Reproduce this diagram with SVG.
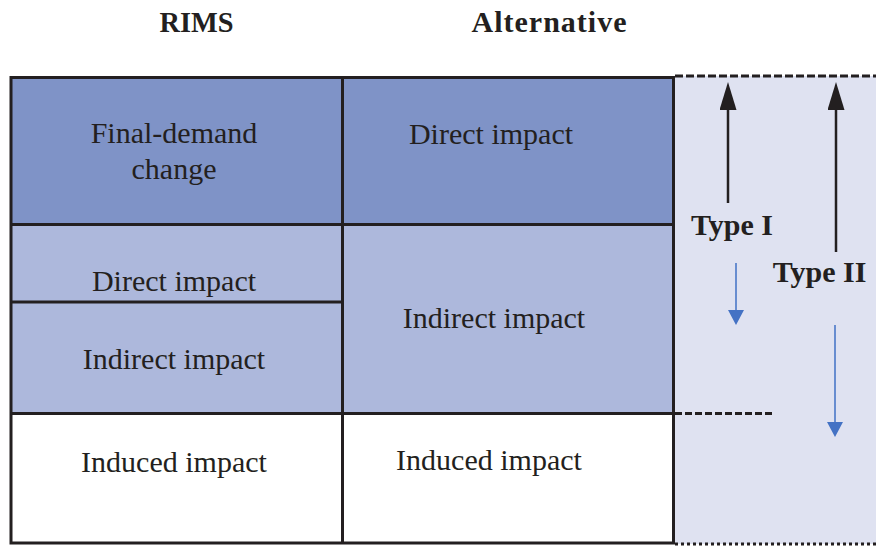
<svg xmlns="http://www.w3.org/2000/svg" width="876" height="546" viewBox="0 0 876 546">
  <style>
    .lbl { font-family: "Liberation Serif", "Times New Roman", serif; font-size: 30px; fill: #231f20; text-anchor: middle; }
    .hdr { font-family: "Liberation Serif", "Times New Roman", serif; font-size: 30px; font-weight: bold; fill: #231f20; text-anchor: middle; }
    .grid { stroke: #231f20; stroke-width: 3; fill: none; }
    .up { stroke: #231f20; stroke-width: 2.5; fill: none; }
    .down { stroke: #4a78c8; stroke-width: 1.6; fill: none; }
  </style>
  <defs>
    <!-- heads start at the line end and point along its direction -->
    <marker id="headUp" viewBox="0 0 28 17" refX="0" refY="8.5" markerWidth="28" markerHeight="17" markerUnits="userSpaceOnUse" orient="auto">
      <path d="M0,0 L28,8.5 L0,17 Z" fill="#231f20"/>
    </marker>
    <marker id="headDown" viewBox="0 0 15 16" refX="0" refY="8" markerWidth="15" markerHeight="16" markerUnits="userSpaceOnUse" orient="auto">
      <path d="M0,0 L15,8 L0,16 Z" fill="#4472c4"/>
    </marker>
  </defs>

  <!-- column headings -->
  <text class="hdr" x="196.5" y="32" textLength="74" lengthAdjust="spacingAndGlyphs">RIMS</text>
  <text class="hdr" x="549" y="32" textLength="155">Alternative</text>

  <!-- multiplier band on the right -->
  <rect x="675" y="76" width="201" height="468" fill="#dfe2f1"/>

  <!-- RIMS column -->
  <g id="rims-final-demand">
    <rect x="11" y="77.5" width="331.5" height="147" fill="#7f93c7"/>
    <text class="lbl" x="174" y="143">Final-demand</text>
    <text class="lbl" x="174" y="179">change</text>
  </g>
  <g id="rims-direct">
    <rect x="11" y="224.5" width="331.5" height="77.5" fill="#adb8dc"/>
    <text class="lbl" x="174" y="291">Direct impact</text>
  </g>
  <g id="rims-indirect">
    <rect x="11" y="302" width="331.5" height="111.5" fill="#adb8dc"/>
    <text class="lbl" x="174" y="369">Indirect impact</text>
  </g>
  <g id="rims-induced">
    <rect x="11" y="413.5" width="331.5" height="129.5" fill="#ffffff"/>
    <text class="lbl" x="174" y="472">Induced impact</text>
  </g>

  <!-- Alternative column -->
  <g id="alt-direct">
    <rect x="342.5" y="77.5" width="331" height="147" fill="#7f93c7"/>
    <text class="lbl" x="491" y="144">Direct impact</text>
  </g>
  <g id="alt-indirect">
    <rect x="342.5" y="224.5" width="331" height="189" fill="#adb8dc"/>
    <text class="lbl" x="494" y="328">Indirect impact</text>
  </g>
  <g id="alt-induced">
    <rect x="342.5" y="413.5" width="331" height="129.5" fill="#ffffff"/>
    <text class="lbl" x="489" y="470">Induced impact</text>
  </g>

  <!-- table rules -->
  <g id="table-lines">
    <rect class="grid" x="11" y="77.5" width="662.5" height="465.5"/>
    <line class="grid" x1="342.5" y1="77.5" x2="342.5" y2="543"/>
    <line class="grid" x1="11" y1="224.5" x2="673.5" y2="224.5"/>
    <line class="grid" x1="11" y1="302" x2="342.5" y2="302"/>
    <line class="grid" x1="11" y1="413.5" x2="673.5" y2="413.5"/>
  </g>

  <!-- multiplier labels -->
  <g id="type-1">
    <text class="hdr" x="732" y="235">Type I</text>
  </g>
  <g id="type-2">
    <text class="hdr" x="819.5" y="282">Type II</text>
  </g>

  <!-- boundary lines and arrows -->
  <g id="connectors">
    <line x1="675" y1="76" x2="876" y2="76" stroke="#231f20" stroke-width="3" stroke-dasharray="8 3"/>
    <line x1="675" y1="413.5" x2="774" y2="413.5" stroke="#231f20" stroke-width="3" stroke-dasharray="7 3"/>
    <line x1="675" y1="544" x2="876" y2="544" stroke="#231f20" stroke-width="3" stroke-dasharray="3 3"/>

    <line class="up" x1="728" y1="203" x2="728" y2="110" marker-end="url(#headUp)"/>
    <line class="up" x1="836" y1="252" x2="836" y2="110" marker-end="url(#headUp)"/>

    <line class="down" x1="736" y1="263" x2="736" y2="310" marker-end="url(#headDown)"/>
    <line class="down" x1="835" y1="325" x2="835" y2="422" marker-end="url(#headDown)"/>
  </g>
</svg>
